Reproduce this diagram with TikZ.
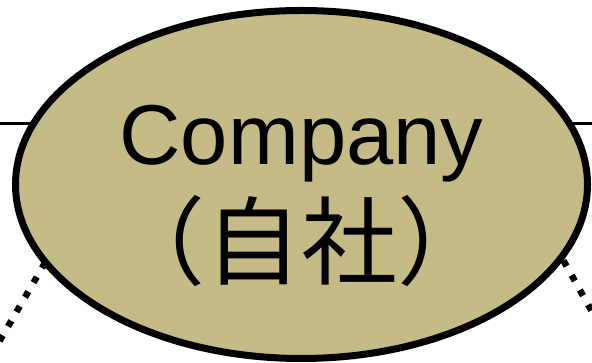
\documentclass[tikz,border=0pt]{standalone}
\usepackage{fontspec}
\setmainfont{Liberation Sans}
\newfontfamily\jpfont{Noto Sans CJK JP}
\usetikzlibrary{shapes.geometric}
\usetikzlibrary{backgrounds}
\definecolor{companyfill}{RGB}{197,187,134}

\begin{document}
\begin{tikzpicture}[x=1pt,y=1pt,
  link/.style={line width=2.5pt},
  dotlink/.style={line width=6.5pt, dash pattern=on 6.5pt off 10.4pt}]
\useasboundingbox (0,0) rectangle (592,363);
\clip (0,0) rectangle (592,363);
\node[ellipse, draw, line width=7pt, fill=companyfill, minimum width=572pt, minimum height=348pt, inner sep=0pt, align=center, font=\fontsize{85}{113}\selectfont] (company) at (301.5,178.5) {\rule{0pt}{82pt}Company\\{\jpfont\fontsize{96}{113}\selectfont （自社）}};
\coordinate (westend) at (-5,239.5);
\coordinate (eastend) at (597,239.5);
\coordinate (swjoin) at (45.3,100.6);
\coordinate (swend) at (-30.2,-29);
\coordinate (sejoin) at (563.4,102.5);
\coordinate (seend) at (647,-47);
\begin{scope}[on background layer]
\draw[link] (westend) -- (westend -| company.center);
\draw[link] (eastend) -- (eastend -| company.center);
\draw[dotlink] (swjoin) -- (swend);
\draw[dotlink] (sejoin) -- (seend);
\end{scope}
\end{tikzpicture}
\end{document}
